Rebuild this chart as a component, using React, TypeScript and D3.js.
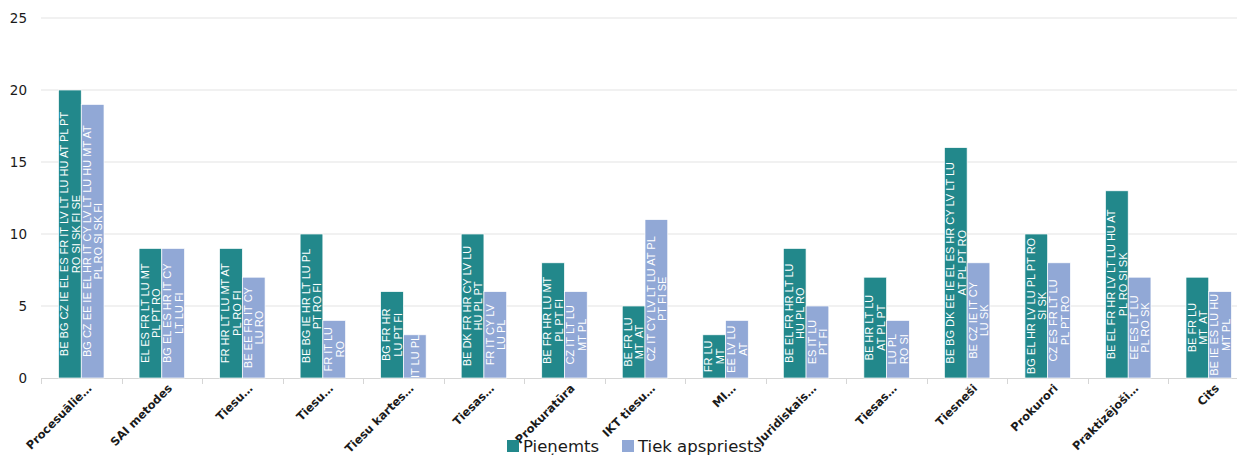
import React from "react";
import * as d3 from "d3";

const categories = [
  "Procesuālie…", "SAI metodes", "Tiesu…", "Tiesu…", "Tiesu kartes…",
  "Tiesas…", "Prokuratūra", "IKT tiesu…", "MI…", "Juridiskais…",
  "Tiesas…", "Tiesneši", "Prokurori", "Praktizējoši…", "Cits",
];
const seriesNames = ["Pieņemts", "Tiek apspriests"];
const pienemts = [20, 9, 9, 10, 6, 10, 8, 5, 3, 9, 7, 16, 10, 13, 7];
const apspriests = [19, 9, 7, 4, 3, 6, 6, 11, 4, 5, 4, 8, 8, 7, 6];
const pienemtsLabels = [
  ["BE BG CZ IE EL ES FR IT LV LT LU HU AT PL PT", "RO SI SK FI SE"],
  ["EL ES FR LT LU MT", "PL PT RO"],
  ["FR HR LT LU MT AT", "PL RO FI"],
  ["BE BG IE HR LT LU PL", "PT RO FI"],
  ["BG FR HR", "LU PT FI"],
  ["BE DK FR HR CY LV LU", "HU PL PT"],
  ["BE FR HR LU MT", "PL PT FI"],
  ["BE FR LU", "MT  AT"],
  ["FR LU", "MT"],
  ["BE EL FR HR LT LU", "HU PL RO"],
  ["BE HR LT LU", "AT PL PT"],
  ["BE BG DK EE IE EL ES HR CY LV LT LU", "AT PL PT RO"],
  ["BG EL HR LV LU PL PT RO", "SI SK"],
  ["BE EL FR HR LV LT LU HU AT", "PL RO SI SK"],
  ["BE FR LU", "MT  AT"],
];
const apspriestsLabels = [
  ["BG CZ EE IE EL HR IT CY LV LT LU HU MT AT", "PL RO SI SK FI"],
  ["BG EL ES HR IT CY", "LT LU FI"],
  ["BE EE FR IT CY", "LU RO"],
  ["FR IT LU", "RO"],
  ["IT LU PL"],
  ["FR IT CY LV", "LU PL"],
  ["CZ IT LT LU", "MT PL"],
  ["CZ IT CY LV LT LU AT PL", "PT FI SE"],
  ["EE LV LU", "AT"],
  ["ES IT LU", "PT FI"],
  ["LU PL", "RO SI"],
  ["BE CZ IE IT CY", "LU SK"],
  ["CZ ES FR LT LU", "PL PT RO"],
  ["EE ES LT LU", "PL RO SK"],
  ["BE IE ES LU HU", "MT PL"],
];
const yTicks = [0, 5, 10, 15, 20, 25];

const colors = ["#22888b", "#91a8d6"];
const W = 1237;
const H = 455;
const plotLeft = 41;
const plotRight = 1249;
const plotTop = 18;
const plotBottom = 378;

export default function App() {
  const x = d3.scaleBand<number>().domain(d3.range(categories.length)).range([plotLeft, plotRight]).padding(0);
  const y = d3.scaleLinear().domain([0, 25]).range([plotBottom, plotTop]);
  const groupW = x.bandwidth() * 0.565;
  const x1 = d3.scaleBand<number>().domain([0, 1]).range([0, groupW]).padding(0);
  const values = [pienemts, apspriests];
  const labels = [pienemtsLabels, apspriestsLabels];
  const lineH = 11.5;

  return (
    <svg width={W} height={H} style={{ position: "absolute", left: 0, top: 0, background: "#fff" }}>
      <defs>
        <clipPath id="plotclip">
          <rect x={plotLeft} y={0} width={W - plotLeft} height={plotBottom} />
        </clipPath>
      </defs>
      {yTicks.map((t) => (
        <g key={t}>
          {t > 0 && (
            <line x1={plotLeft} x2={W} y1={y(t)} y2={y(t)} stroke="#e3e3e3" strokeWidth={1} />
          )}
          <text x={27} y={y(t) + 5} textAnchor="end" fontFamily="DejaVu Sans" fontSize={13.5} fill="#1a1a1a">
            {t}
          </text>
        </g>
      ))}
      <line x1={plotLeft} x2={W} y1={plotBottom + 0.5} y2={plotBottom + 0.5} stroke="#d6d6d6" strokeWidth={1} />
      {d3.range(categories.length + 1).map((i) => {
        const xx = Math.round(plotLeft + i * x.bandwidth()) + 0.5;
        return <line key={i} x1={xx} x2={xx} y1={plotBottom} y2={plotBottom + 6} stroke="#d6d6d6" />;
      })}
      {values.map((vals, s) =>
        vals.map((v, i) => {
          const cx = (x(i) as number) + x.bandwidth() / 2;
          const bx = cx - groupW / 2 + (x1(s) as number);
          const bw = x1.bandwidth();
          const top = y(v);
          return (
            <rect key={`${s}-${i}`} x={bx} y={top} width={bw} height={plotBottom - top}
              fill={colors[s]} stroke="#ffffff" strokeWidth={0.7} />
          );
        })
      )}
      <g clipPath="url(#plotclip)">
        {values.map((vals, s) =>
          vals.map((v, i) => {
            const cx = (x(i) as number) + x.bandwidth() / 2;
            const bx = cx - groupW / 2 + (x1(s) as number);
            const bw = x1.bandwidth();
            const midY = (y(v) + plotBottom) / 2;
            const midX = bx + bw / 2;
            const lines = labels[s][i];
            const n = lines.length;
            return (
              <g key={`l-${s}-${i}`} transform={`translate(${midX},${midY}) rotate(-90)`}>
                {lines.map((ln, k) => (
                  <text key={k} x={0} y={(k - (n - 1) / 2) * lineH} textAnchor="middle" dominantBaseline="central"
                    fontFamily="Liberation Sans, Arial" fontSize={11} fill="#ffffff" style={{ whiteSpace: "pre" }}>
                    {ln}
                  </text>
                ))}
              </g>
            );
          })
        )}
      </g>
      {categories.map((c, i) => {
        const cx = (x(i) as number) + x.bandwidth() / 2;
        return (
          <text key={i} transform={`translate(${cx + 11},${plotBottom + 11}) rotate(-45)`} textAnchor="end"
            fontFamily="DejaVu Sans" fontWeight="bold" fontSize={11.5} fill="#1a1a1a">
            {c}
          </text>
        );
      })}
      <g>
        <rect x={507} y={440} width={12} height={12} fill={colors[0]} />
        <text x={523} y={452} fontFamily="DejaVu Sans" fontSize={16.5} fill="#1a1a1a">{seriesNames[0]}</text>
        <rect x={622} y={440} width={12} height={12} fill={colors[1]} />
        <text x={638} y={452} fontFamily="DejaVu Sans" fontSize={16.5} fill="#1a1a1a">{seriesNames[1]}</text>
      </g>
    </svg>
  );
}
